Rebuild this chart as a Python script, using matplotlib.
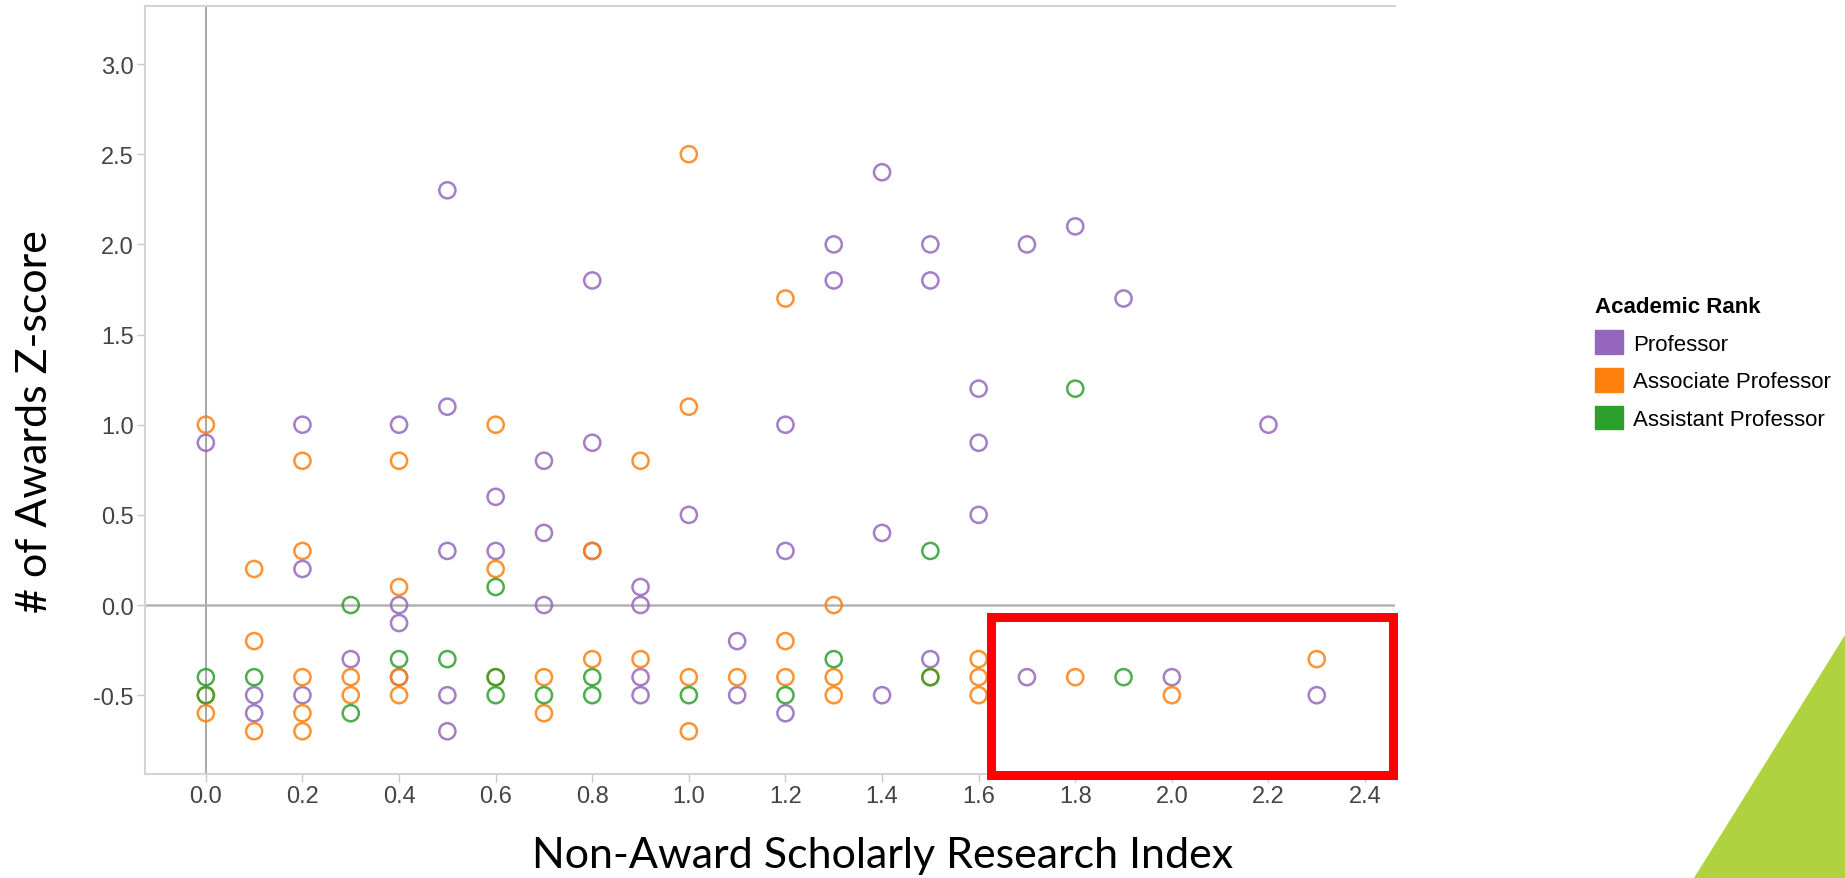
import numpy as np
import matplotlib
matplotlib.use("Agg")
import matplotlib.pyplot as plt
from matplotlib.patches import Patch, Rectangle, Polygon

# values
prof_x = [0.0, 0.1, 0.1, 0.2, 0.2, 0.2, 0.3, 0.4, 0.4, 0.4, 0.4,
          0.5, 0.5, 0.5, 0.5, 0.5, 0.6, 0.6, 0.7, 0.7, 0.7, 0.8, 0.8, 0.8,
          0.9, 0.9, 0.9, 0.9, 1.0, 1.1, 1.1, 1.2, 1.2, 1.2, 1.3, 1.3,
          1.4, 1.4, 1.4, 1.5, 1.5, 1.5, 1.6, 1.6, 1.6, 1.7, 1.7, 1.8, 1.9,
          2.0, 2.2, 2.3]
prof_y = [0.9, -0.5, -0.6, 1.0, 0.2, -0.5, -0.3, 1.0, 0.0, -0.1, -0.4,
          2.3, 1.1, 0.3, -0.5, -0.7, 0.6, 0.3, 0.8, 0.4, 0.0, 1.8, 0.9, 0.3,
          0.1, 0.0, -0.4, -0.5, 0.5, -0.2, -0.5, 1.0, 0.3, -0.6, 2.0, 1.8,
          2.4, 0.4, -0.5, 2.0, 1.8, -0.3, 1.2, 0.9, 0.5, 2.0, -0.4, 2.1, 1.7,
          -0.4, 1.0, -0.5]

assoc_x = [0.0, 0.0, 0.0, 0.1, 0.1, 0.1, 0.2, 0.2, 0.2, 0.2, 0.2,
           0.3, 0.3, 0.4, 0.4, 0.4, 0.4, 0.6, 0.6, 0.6, 0.7, 0.7, 0.8, 0.8,
           0.9, 0.9, 1.0, 1.0, 1.0, 1.0, 1.1, 1.2, 1.2, 1.2, 1.3, 1.3, 1.3,
           1.5, 1.6, 1.6, 1.6, 1.8, 2.0, 2.3]
assoc_y = [1.0, -0.5, -0.6, 0.2, -0.2, -0.7, 0.8, 0.3, -0.4, -0.6, -0.7,
           -0.4, -0.5, 0.8, 0.1, -0.4, -0.5, 1.0, 0.2, -0.4, -0.4, -0.6, 0.3, -0.3,
           0.8, -0.3, 2.5, 1.1, -0.4, -0.7, -0.4, 1.7, -0.2, -0.4, 0.0, -0.4, -0.5,
           -0.4, -0.3, -0.4, -0.5, -0.4, -0.5, -0.3]

asst_x = [0.0, 0.0, 0.1, 0.3, 0.3, 0.4, 0.5, 0.6, 0.6, 0.6, 0.7,
          0.8, 0.8, 1.0, 1.2, 1.3, 1.5, 1.5, 1.8, 1.9]
asst_y = [-0.4, -0.5, -0.4, 0.0, -0.6, -0.3, -0.3, 0.1, -0.4, -0.5, -0.5,
          -0.4, -0.5, -0.5, -0.5, -0.3, 0.3, -0.4, 1.2, -0.4]

ranks = ["Professor", "Associate Professor", "Assistant Professor"]
colors = ["#9467bd", "#ff7f0e", "#2ca02c"]
x_ticks = [0.0, 0.2, 0.4, 0.6, 0.8, 1.0, 1.2, 1.4, 1.6, 1.8, 2.0, 2.2, 2.4]
y_ticks = [-0.5, 0.0, 0.5, 1.0, 1.5, 2.0, 2.5, 3.0]

W, H = 1845, 879
fig = plt.figure(figsize=(W / 100, H / 100), dpi=100)
ax = fig.add_axes([145 / W, 1 - 775 / H, 1250 / W, 768 / H])

ax.axvline(0, color="#a6a6a6", lw=1.4, zorder=1)
ax.axhline(0, color="#b3b3b3", lw=1.8, zorder=1)

for xs, ys, c in zip([prof_x, assoc_x, asst_x], [prof_y, assoc_y, asst_y], colors):
    ax.scatter(xs, ys, s=135, facecolors="none", edgecolors=c, linewidths=1.8,
               alpha=0.85, zorder=3)

ax.set_xlim(-0.126, 2.462)
ax.set_ylim(-0.937, 3.322)
ax.set_xticks(x_ticks)
ax.set_yticks(y_ticks)
ax.set_xticklabels([f"{v:.1f}" for v in x_ticks])
ax.set_yticklabels([f"{v:.1f}" for v in y_ticks])
ax.tick_params(length=6, width=1, color="#c8c8c8", pad=2, labelsize=17,
               labelcolor="#444444")
for lab in ax.get_xticklabels() + ax.get_yticklabels():
    lab.set_family("Liberation Sans")

ax.spines["right"].set_visible(False)
for side in ["left", "bottom", "top"]:
    ax.spines[side].set_color("#d4d4d4")
    ax.spines[side].set_linewidth(1.5)

ax.set_xlabel("Non-Award Scholarly Research Index", family="Lato", fontsize=31,
              va="center")
ax.set_ylabel("# of Awards Z-score", family="Lato", fontsize=31, va="center")
ax.xaxis.set_label_coords(0.59, -0.106)
ax.yaxis.set_label_coords(-0.088, 0.46)

handles = [Patch(facecolor=c, edgecolor=c) for c in colors]
leg = fig.legend(handles, ranks, title="Academic Rank", loc="upper left",
                 bbox_to_anchor=(1584 / W, 1 - 286 / H), frameon=False,
                 prop={"family": "Liberation Sans", "size": 16},
                 title_fontproperties={"family": "Liberation Sans", "size": 16,
                                       "weight": "bold"},
                 handlelength=1.25, handleheight=1.25, handletextpad=0.45,
                 labelspacing=0.6, borderpad=0)
leg._legend_box.align = "left"

# red highlight box and green corner triangle
fig.patches.append(Rectangle((991 / W, 1 - 776 / H), 402 / W, 158 / H,
                             transform=fig.transFigure, fill=False,
                             edgecolor="#ff0000", lw=6.5))
fig.patches.append(Polygon([(1, 1 - 636 / H), (1, 0), (1694 / W, 0)],
                           closed=True, transform=fig.transFigure,
                           facecolor="#b0d23e", edgecolor="none"))

fig.savefig("out.png", dpi=100, facecolor="white")
